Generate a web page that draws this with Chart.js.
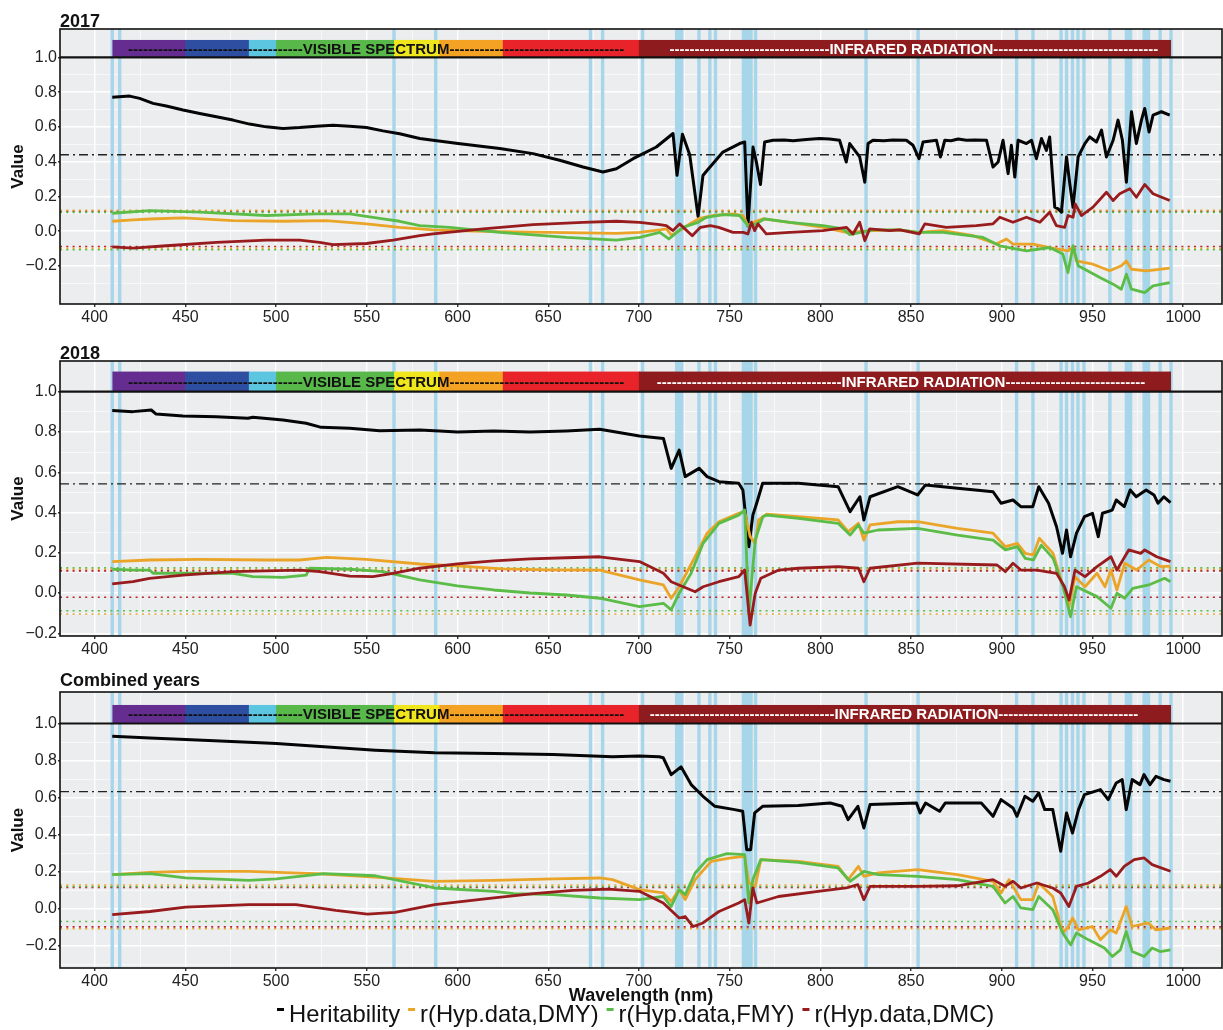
<!DOCTYPE html>
<html><head><meta charset="utf-8">
<script src="https://cdn.jsdelivr.net/npm/chart.js@4.4.1/dist/chart.umd.min.js"></script>
<style>
html,body{margin:0;padding:0;background:#fff;}
#wrap{position:relative;width:1223px;height:1030px;overflow:hidden;background:#fff;}
canvas{position:absolute;left:0;}
</style></head><body>
<div id="wrap">
<canvas id="c1" width="1223" height="330" style="top:0px"></canvas>
<canvas id="c2" width="1223" height="332" style="top:330px"></canvas>
<canvas id="c3" width="1223" height="368" style="top:662px"></canvas>
</div>
<script>
// ---------------- DATA ----------------
const panelTitles = ['2017', '2018', 'Combined years'];
const seriesNames = ['Heritability', 'r(Hyp.data,DMY)', 'r(Hyp.data,FMY)', 'r(Hyp.data,DMC)'];
const xTickLabels = [400, 450, 500, 550, 600, 650, 700, 750, 800, 850, 900, 950, 1000];
const xGridValues = [400, 425, 450, 475, 500, 525, 550, 575, 600, 625, 650, 675, 700, 725, 750, 775, 800, 825, 850, 875, 900, 925, 950, 975, 1000];
const yTickValues = [-0.2, 0, 0.2, 0.4, 0.6, 0.8, 1.0];
const yGridValues = [-0.3, -0.2, -0.1, 0, 0.1, 0.2, 0.3, 0.4, 0.5, 0.6, 0.7, 0.8, 0.9, 1.0];

// significant wavelengths (light blue vertical lines), nm
const blueLines = [409.7, 413.8, 565, 588, 673.3, 680, 702, 720.8, 722.2, 723.6, 733.1, 739.1, 742.2, 757.6, 759, 760.4, 761.8, 764.3, 825.2, 853.9, 908.2, 917.2, 932.7, 935.7, 939, 942, 945.3, 959.6, 968.7, 969.9, 971, 978.5, 979.7, 980.9, 987.3, 993.3];
// spectrum strip
const bandEdges = [409.8, 450, 485, 500, 565, 590, 625, 700, 993.3];
const bandColors = ['#662d91', '#2e4fa1', '#5cc6e0', '#59b84a', '#f0e61e', '#f3a224', '#e8232a', '#8e1b1d'];

// mean heritability (dash-dot) and significance thresholds (dotted), per panel
const herMean  = [0.44, 0.542, 0.632];
const upperDMY = [0.120, 0.118, 0.128];
const lowerDMY = [-0.098, -0.104, -0.108];
const upperFMY = [0.108, 0.125, 0.120];
const lowerFMY = [-0.106, -0.088, -0.069];
const upperDMC = [0.115, 0.110, 0.115];
const lowerDMC = [-0.088, -0.021, -0.098];

// ---- 2017 ----
const wlHer17 = [409.7,419.3,424.8,432.2,439.5,448.7,457.9,467.1,476.2,485.4,494.6,503.8,513,522.2,531.4,540.6,549.8,558.9,568.1,579.2,586.5,600.3,623.3,641.6,656.3,669.2,680.2,687.6,696.8,700.4,709.6,718.8,721,724,728,732.6,735.3,737.2,746.3,755.5,758.3,760.1,762.9,764.7,767,769.3,773.9,780,785,792.3,799.6,805,810.6,814.3,816.2,821.7,824.5,826.3,829,835,840,847.4,851.1,854.4,856.6,864,866.2,868.6,872,876,880.5,885,891.6,895.2,898,900.7,903.5,905.3,907.2,909,913.6,916.4,919.1,921.9,924.6,926.4,929.2,931.1,932.9,935.7,937.5,939.3,942.1,945.8,948.5,952.2,955,957.7,961.4,964.1,966.5,968.7,971.5,974.2,977,978.8,981.2,983.4,988,992.6];
const her17 = [0.770,0.777,0.764,0.735,0.720,0.697,0.677,0.658,0.639,0.616,0.600,0.591,0.596,0.604,0.610,0.604,0.596,0.577,0.560,0.533,0.523,0.504,0.475,0.446,0.408,0.369,0.340,0.359,0.417,0.436,0.484,0.562,0.321,0.558,0.440,0.085,0.320,0.345,0.455,0.504,0.513,0.030,0.484,0.400,0.269,0.513,0.523,0.525,0.520,0.527,0.533,0.530,0.523,0.398,0.504,0.427,0.282,0.504,0.523,0.520,0.525,0.523,0.494,0.417,0.513,0.523,0.427,0.523,0.520,0.530,0.523,0.525,0.523,0.369,0.398,0.523,0.331,0.494,0.311,0.523,0.504,0.523,0.417,0.533,0.465,0.542,0.138,0.128,0.109,0.427,0.273,0.138,0.427,0.504,0.542,0.513,0.581,0.427,0.523,0.639,0.523,0.282,0.687,0.504,0.639,0.706,0.571,0.668,0.687,0.668];
const wlDmy17 = [409.7,421.1,430.3,448.7,476.2,503.8,527.7,549.8,568.1,579.2,586.5,614.1,650.8,687.6,700.4,711.5,715.2,717.9,722.4,728,733.5,740.8,751.9,757.4,760.1,762.9,768.4,783.1,801.5,814.3,829,843.8,853.9,867.6,884.2,897,902.6,906.2,917.2,926.4,936.5,939.3,941.1,950.3,959.5,965.9,968.7,971.5,979.7,992.6];
const dmy17 = [0.057,0.065,0.070,0.076,0.061,0.057,0.061,0.042,0.022,0.013,0.007,-0.001,-0.007,-0.013,-0.007,0.007,0.013,-0.023,0.003,0.042,0.074,0.090,0.099,0.090,0.032,0.051,0.071,0.051,0.022,-0.007,0.003,0.007,-0.007,0.003,-0.026,-0.074,-0.045,-0.074,-0.074,-0.094,-0.113,-0.094,-0.171,-0.190,-0.228,-0.199,-0.171,-0.219,-0.228,-0.213];
const wlFmy17 = [409.7,430.3,457.9,494.6,522.2,540.6,558.9,568.1,579.2,595.7,623.3,660.1,687.6,700.4,711.5,716.5,724.3,732.6,737.2,746.3,755.5,760.1,764.7,769.3,783.1,801.5,812.5,816.2,829,843.8,853.9,867.6,889.7,898.9,913.6,926.4,933.7,936.5,939.3,942.1,954.1,961.4,965.9,968.7,971.5,978.8,983.4,992.6];
const fmy17 = [0.103,0.118,0.109,0.090,0.099,0.099,0.071,0.057,0.032,0.022,-0.007,-0.036,-0.051,-0.036,-0.007,-0.045,0.022,0.051,0.080,0.095,0.090,0.032,0.042,0.071,0.051,0.032,0.013,-0.020,0.007,0.007,-0.007,-0.007,-0.036,-0.084,-0.113,-0.094,-0.132,-0.238,-0.084,-0.199,-0.267,-0.305,-0.334,-0.247,-0.334,-0.354,-0.315,-0.296];
const wlDmc17 = [409.7,421.1,439.5,467.1,494.6,513,524,531.4,549.8,564.5,579.2,586.5,614.1,641.6,669.2,687.6,700.4,711.5,715.1,718.8,722.4,729.4,733.9,739.4,744,751.9,757.4,760.1,762,763.8,765.6,770.2,783.1,801.5,814.3,818,821.7,824.5,827.2,838.2,843.8,854.5,857.6,869.5,886,895.2,898.9,906.2,913.6,921,926.4,930.1,934.7,936.5,939.3,940.5,943.9,950.3,957.7,961.4,965,970.6,974.2,978.8,983.4,992.6];
const dmc17 = [-0.090,-0.097,-0.084,-0.064,-0.051,-0.051,-0.064,-0.078,-0.071,-0.051,-0.026,-0.016,0.013,0.038,0.051,0.057,0.051,0.038,0.032,0.003,0.042,-0.026,0.022,0.032,0.022,-0.007,-0.007,-0.016,0.051,0.003,0.042,-0.016,-0.007,0.003,0.022,-0.016,0.051,-0.055,0.013,0.003,0.007,-0.016,0.042,0.022,0.032,0.042,0.080,0.051,0.080,0.051,0.109,0.032,0.022,0.090,0.080,0.157,0.090,0.138,0.224,0.176,0.215,0.244,0.195,0.269,0.215,0.176];

// ---- 2018 ----
const wlHer18 = [409.7,421.1,431.2,433.9,448.7,467.1,484.5,487.2,503.8,516.6,524.9,540.6,557.1,579.2,590,600,620,640,660,678.4,700.3,713.5,717.8,722.2,725.5,733.2,737.6,744.1,755,757.3,760.6,762.8,764.9,768.2,787.9,809.8,816.4,821.8,824,827.4,842.7,853.6,858,875.6,895.2,899.6,906.2,910.5,917.1,920.4,925.8,930.2,933.5,935.7,937.9,941.2,945.6,950,953.2,955.5,960.9,963.1,967.5,970.8,974.1,979.6,983.9,986.1,989.4,993];
const her18 = [0.906,0.901,0.909,0.889,0.879,0.876,0.868,0.873,0.859,0.843,0.823,0.818,0.806,0.810,0.805,0.800,0.805,0.800,0.805,0.813,0.780,0.768,0.619,0.710,0.578,0.619,0.578,0.553,0.545,0.512,0.230,0.387,0.446,0.545,0.545,0.528,0.404,0.478,0.363,0.478,0.528,0.487,0.537,0.520,0.503,0.446,0.462,0.429,0.429,0.528,0.446,0.329,0.197,0.313,0.180,0.297,0.379,0.396,0.280,0.396,0.412,0.462,0.429,0.512,0.478,0.512,0.487,0.446,0.478,0.449];
const wlDmy18 = [409.7,430.3,457.9,494.6,513,527.7,549.8,579.2,600,625,650,678.4,700.3,713.5,717.8,722.2,731,737.6,744.1,755,758.3,761.3,764.1,766,770.4,787.9,809.8,815.4,821,824,827.4,842.7,853.6,875.6,895.2,902,908.6,913,917.4,920.7,928.3,932.7,937.1,940.4,945.9,952.5,956.9,960.2,963.5,967.8,974.4,981,987.6,993];
const dmy18 = [0.156,0.164,0.167,0.164,0.164,0.177,0.167,0.144,0.135,0.120,0.115,0.114,0.065,0.040,-0.026,0.031,0.180,0.297,0.354,0.396,0.404,0.280,0.247,0.363,0.392,0.379,0.363,0.305,0.346,0.263,0.338,0.354,0.354,0.321,0.297,0.230,0.247,0.197,0.189,0.272,0.197,0.065,-0.068,0.081,0.031,0.098,0.031,0.114,0.015,0.148,0.114,0.164,0.131,0.134];
const wlFmy18 = [409.7,421.1,430.3,432.2,448.7,476.2,487.2,503.8,516.6,518.5,540.6,558.9,579.2,600,620,640,660,678.4,700.3,713.5,717.8,722.2,728.8,735.4,744.1,755,758.3,760.6,764.1,768.3,770.4,787.9,809.8,816.4,821,824,831.8,853.6,875.6,895.2,902,908.6,913,917.4,921.8,928.3,933.8,937.9,941.2,952.5,960.2,963.5,967.8,972.2,981,989.8,993];
const fmy18 = [0.118,0.114,0.114,0.098,0.098,0.098,0.081,0.078,0.089,0.123,0.118,0.106,0.065,0.035,0.015,0.000,-0.010,-0.026,-0.068,-0.051,-0.084,-0.001,0.098,0.247,0.346,0.387,0.412,-0.101,0.263,0.379,0.387,0.371,0.346,0.288,0.338,0.297,0.313,0.321,0.288,0.263,0.214,0.230,0.172,0.164,0.238,0.172,0.031,-0.118,0.031,-0.018,-0.076,-0.001,-0.026,0.023,0.040,0.073,0.056];
const wlDmc18 = [409.7,421.1,430.3,448.7,476.2,513,524,540.6,553.4,564.5,579.2,600,620,640,660,678.4,700.3,713.5,717.8,724.4,731,735.4,744.1,755,758.3,761.3,764.1,767.2,777.1,787.9,809.8,821,824,827.4,853.6,897.4,902,906.2,910.5,919.3,930.2,934.6,937.1,940.4,945.9,952.5,960.2,963.5,970,976.6,978.8,985.4,993];
const dmc18 = [0.045,0.056,0.073,0.089,0.106,0.114,0.106,0.084,0.081,0.098,0.123,0.145,0.160,0.170,0.175,0.180,0.156,0.098,0.056,0.031,0.006,0.031,0.056,0.081,0.114,-0.159,-0.001,0.073,0.114,0.123,0.131,0.123,0.056,0.123,0.148,0.139,0.106,0.148,0.114,0.114,0.098,0.031,-0.035,0.114,0.081,0.131,0.180,0.114,0.214,0.197,0.214,0.180,0.156];

// ---- Combined years ----
const wlHerC = [409.7,430.5,450.1,484.9,500.2,526.4,554.7,587.4,620.1,652.8,685.5,700,711.2,713.4,717.8,723.2,728.8,735.3,741.9,752.8,757.2,759.4,761.6,763.8,768.2,787.9,805.4,812,815.3,820.7,824,827.4,853,855,858,865.7,868.9,888.7,895.2,899.6,906.2,908.4,912.8,917.1,920.4,923.7,928.1,932.5,935.7,939,942.3,945.6,954.4,958.7,963.1,966.4,968.6,971.9,976.2,978.4,981.7,985,989.4,993];
const herC = [0.931,0.922,0.914,0.899,0.892,0.874,0.856,0.842,0.838,0.832,0.820,0.825,0.820,0.815,0.724,0.766,0.670,0.607,0.553,0.535,0.526,0.319,0.319,0.517,0.553,0.557,0.571,0.553,0.481,0.553,0.436,0.562,0.571,0.517,0.571,0.526,0.571,0.571,0.499,0.589,0.544,0.499,0.607,0.580,0.625,0.535,0.535,0.310,0.517,0.409,0.535,0.616,0.643,0.589,0.679,0.697,0.535,0.697,0.670,0.724,0.670,0.715,0.697,0.688];
const wlDmyC = [409.7,430.5,450.1,484.9,522,554.7,587.4,620.1,652.8,678.4,685.5,700.3,713.4,717.8,722.2,725.5,731,739.8,750.7,758.3,760.6,764.1,767.2,787.9,809.8,815.3,821,824,831.8,853.6,875.6,895.2,899.6,904,910.5,917.1,920.4,928.1,933.6,936.8,939,942.3,950,954.4,959.8,963.1,968.6,971.9,980.7,985,993];
const dmyC = [0.184,0.196,0.202,0.202,0.189,0.171,0.148,0.153,0.161,0.166,0.157,0.103,0.085,0.039,0.103,0.049,0.157,0.256,0.274,0.283,0.139,0.121,0.265,0.256,0.229,0.157,0.229,0.175,0.193,0.211,0.184,0.148,0.085,0.157,0.049,0.049,0.139,0.066,-0.131,-0.096,-0.050,-0.114,-0.096,-0.168,-0.114,-0.131,0.012,-0.096,-0.077,-0.114,-0.104];
const wlFmyC = [409.7,430.5,450.1,484.9,500.2,526.4,554.7,587.4,620.1,631,652.8,678.4,700.3,713.4,717.8,722.2,725.5,731,737.6,748.5,758.3,760.6,762.8,767.2,787.9,809.8,816.4,824,831.8,853.6,875.6,895.2,901.8,906.2,910.5,917.1,920.4,928.1,933.6,938,941.2,947.8,956.6,961,965.4,968.6,971.9,978.5,982.9,987.3,993];
const fmyC = [0.184,0.189,0.166,0.153,0.161,0.189,0.178,0.112,0.094,0.081,0.076,0.058,0.049,0.066,0.012,0.103,0.076,0.193,0.265,0.297,0.292,0.031,0.157,0.265,0.250,0.220,0.148,0.202,0.184,0.175,0.157,0.121,0.031,0.066,0.004,-0.005,0.066,-0.005,-0.131,-0.195,-0.131,-0.168,-0.212,-0.258,-0.222,-0.123,-0.231,-0.258,-0.212,-0.231,-0.222];
const wlDmcC = [409.7,430.5,450.1,484.9,511,532.9,550.3,565.6,587.4,620.1,641.9,663.7,683.3,700.3,713.4,722.2,725.5,729.9,735.3,744.1,755,758.3,760.6,762.8,765,776.9,798.8,814.2,820.7,824,827.4,853.6,875.6,895.2,901.8,906.2,910.5,919.3,928.1,932.5,937,941.2,947.8,954.4,959.8,963.1,967.5,973,978.5,982.9,993];
const dmcC = [-0.032,-0.015,0.009,0.022,0.022,-0.009,-0.029,-0.020,0.022,0.058,0.081,0.099,0.106,0.094,0.031,-0.050,-0.042,-0.096,-0.077,-0.015,0.031,0.049,-0.077,0.112,0.031,0.066,0.094,0.112,0.130,0.049,0.121,0.121,0.124,0.157,0.121,0.148,0.112,0.139,0.112,0.085,0.012,0.121,0.139,0.175,0.211,0.175,0.229,0.265,0.274,0.238,0.202];

// ---------------- STYLE / LAYOUT ----------------
const FONT = '"Liberation Sans", Arial, Helvetica, sans-serif';
const xMin = 380.9, xMax = 1021.4, stripTop = 1.1;
const COL = { her: '#050505', dmy: '#eaa528', fmy: '#5bbd47', dmc: '#981b1e', dmcDot: '#b8222a' };
Chart.defaults.font.family = FONT;
Chart.defaults.color = '#222';

const near = (a, b) => Math.abs(a - b) < 1e-6;
const isMajorY = v => yTickValues.some(t => near(t, v));
const isMajorX = v => xTickLabels.some(t => near(t, v));

function drawDashedLabel(ctx, x, word, pos, yMid, color) {
  const xs = x.getPixelForValue(pos[0]), xw = x.getPixelForValue(pos[1]), xe = x.getPixelForValue(pos[2]);
  const ww = ctx.measureText(word).width, dw = ctx.measureText('-').width;
  const nL = Math.max(0, Math.round((xw - xs) / dw));
  const nR = Math.max(0, Math.round((xe - xw - ww) / dw));
  ctx.fillStyle = color;
  ctx.textAlign = 'left';
  ctx.fillText('-'.repeat(nL) + word + '-'.repeat(nR), xw - nL * dw, yMid);
}

const panelDecor = {
  id: 'panelDecor',
  beforeDraw(chart) {
    const {ctx, chartArea: a} = chart;
    ctx.save();
    ctx.fillStyle = '#ecedef';
    ctx.fillRect(a.left, a.top, a.right - a.left, a.bottom - a.top);
    ctx.restore();
  },
  beforeDatasetsDraw(chart, args, opts) {
    const {ctx, chartArea: a, scales: {x, y}} = chart;
    ctx.save();
    ctx.beginPath(); ctx.rect(a.left, a.top, a.right - a.left, a.bottom - a.top); ctx.clip();
    ctx.strokeStyle = '#a7d6ea'; ctx.lineWidth = 3.4;
    blueLines.forEach(w => {
      const px = x.getPixelForValue(w);
      ctx.beginPath(); ctx.moveTo(px, a.top); ctx.lineTo(px, a.bottom); ctx.stroke();
    });
    const yT = y.getPixelForValue(stripTop), yB = y.getPixelForValue(1.0);
    for (let i = 0; i < bandColors.length; i++) {
      const x0 = x.getPixelForValue(bandEdges[i]), x1 = x.getPixelForValue(bandEdges[i + 1]);
      ctx.fillStyle = bandColors[i];
      ctx.fillRect(x0, yT, x1 - x0 + (i < bandColors.length - 1 ? 0.6 : 0), yB - yT);
    }
    const yMid = (yT + yB) / 2 + 1;
    ctx.font = 'bold 15px ' + FONT;
    ctx.textBaseline = 'middle';
    drawDashedLabel(ctx, x, 'VISIBLE SPECTRUM', [418, 514.7, 692.7], yMid, '#111');
    drawDashedLabel(ctx, x, 'INFRARED RADIATION', opts.infra, yMid, '#ffffff');
    ctx.restore();
  },
  afterDatasetsDraw(chart) {
    const {ctx, chartArea: a, scales: {y}} = chart;
    ctx.save();
    const y1 = y.getPixelForValue(1.0);
    ctx.strokeStyle = '#111'; ctx.lineWidth = 2.2;
    ctx.beginPath(); ctx.moveTo(a.left, y1); ctx.lineTo(a.right, y1); ctx.stroke();
    ctx.lineWidth = 1.6;
    ctx.strokeRect(a.left, a.top, a.right - a.left, a.bottom - a.top);
    ctx.restore();
  },
  afterDraw(chart, args, opts) {
    const {ctx, chartArea: a} = chart;
    ctx.save();
    ctx.font = 'bold 18px ' + FONT;
    ctx.fillStyle = '#111'; ctx.textAlign = 'left'; ctx.textBaseline = 'alphabetic';
    ctx.fillText(opts.title, a.left, a.top - opts.titleGap);
    if (opts.legend) {
      ctx.font = '23.8px ' + FONT;
      ctx.textBaseline = 'middle';
      let lx = opts.legend.x; const ly = opts.legend.y;
      chart.data.datasets.filter(d => d.legendRank !== undefined)
        .sort((p, q) => p.legendRank - q.legendRank)
        .forEach(d => {
          ctx.fillStyle = d.borderColor; ctx.fillRect(lx, ly - 7, 7, 3);
          lx += 12;
          ctx.fillStyle = '#111'; ctx.fillText(d.label, lx, ly);
          lx += ctx.measureText(d.label).width + 8;
        });
    }
    ctx.restore();
  }
};

function series(label, wl, vals, color, width, order, rank) {
  const n = Math.min(wl.length, vals.length);
  const data = [];
  for (let i = 0; i < n; i++) data.push({x: wl[i], y: vals[i]});
  return {label, data, borderColor: color, backgroundColor: color, borderWidth: width,
          pointRadius: 0, tension: 0, fill: false, order, legendRank: rank, borderJoinStyle: 'round'};
}
function hline(label, v, color, dash, width, order) {
  return {label, data: [{x: xMin, y: v}, {x: xMax, y: v}], borderColor: color, borderWidth: width,
          borderDash: dash, pointRadius: 0, fill: false, order};
}

function makePanel(cfg, i) {
  const dot = [2, 4.3];
  const datasets = [
    series(seriesNames[0], cfg.her[0], cfg.her[1], COL.her, 3, 3, 0),
    series(seriesNames[1], cfg.dmy[0], cfg.dmy[1], COL.dmy, 2.8, 2, 1),
    series(seriesNames[2], cfg.fmy[0], cfg.fmy[1], COL.fmy, 2.8, 1, 2),
    series(seriesNames[3], cfg.dmc[0], cfg.dmc[1], COL.dmc, 2.8, 0, 3),
    hline('mean h2', herMean[i], '#222', [9, 4, 2, 4], 1.4, 4),
    hline('DMY+', upperDMY[i], COL.dmy, dot, 1.6, 5),
    hline('DMY-', lowerDMY[i], COL.dmy, dot, 1.6, 5),
    hline('FMY+', upperFMY[i], COL.fmy, dot, 1.6, 6),
    hline('FMY-', lowerFMY[i], COL.fmy, dot, 1.6, 6),
    hline('DMC+', upperDMC[i], COL.dmcDot, dot, 1.6, 7),
    hline('DMC-', lowerDMC[i], COL.dmcDot, dot, 1.6, 7)
  ];
  return new Chart(document.getElementById(cfg.id), {
    type: 'line',
    data: {datasets},
    plugins: [panelDecor],
    options: {
      responsive: false, animation: false, devicePixelRatio: 1,
      layout: {padding: {top: cfg.padTop, right: 1, bottom: cfg.padBottom, left: 0}},
      plugins: {
        legend: {display: false}, tooltip: {enabled: false},
        panelDecor: {title: panelTitles[i], titleGap: cfg.titleGap, infra: cfg.infra, legend: cfg.legend}
      },
      scales: {
        x: {
          type: 'linear', min: xMin, max: xMax,
          afterBuildTicks: s => { s.ticks = xGridValues.map(v => ({value: v})); },
          afterFit: s => { s.height = cfg.xH; },
          ticks: {autoSkip: false, maxRotation: 0, minRotation: 0, padding: 1,
                  font: {size: 16}, color: '#222',
                  callback: v => isMajorX(v) ? String(v) : ''},
          grid: {color: '#ffffff',
                 lineWidth: c => (c.tick && isMajorX(c.tick.value)) ? 1.4 : 0.6,
                 tickLength: 3,
                 tickColor: c => (c.tick && isMajorX(c.tick.value)) ? '#333' : 'rgba(0,0,0,0)'},
          border: {display: false},
          title: {display: cfg.xTitle, text: 'Wavelength (nm)', color: '#111',
                  font: {size: 18, weight: 'bold'}, padding: {top: 0, bottom: 0}}
        },
        y: {
          type: 'linear', min: cfg.yMin, max: cfg.yMax,
          afterBuildTicks: s => { s.ticks = yGridValues.filter(v => v >= cfg.yMin && v <= cfg.yMax).map(v => ({value: v})); },
          afterFit: s => { s.width = 60; },
          ticks: {autoSkip: false, padding: 1, font: {size: 16}, color: '#222',
                  callback: v => isMajorY(v) ? v.toFixed(1).replace('-', '\u2212') : ''},
          grid: {color: '#ffffff',
                 lineWidth: c => (c.tick && isMajorY(c.tick.value)) ? 1.4 : 0.6,
                 tickLength: 2,
                 tickColor: c => (c.tick && isMajorY(c.tick.value)) ? '#333' : 'rgba(0,0,0,0)'},
          border: {display: false},
          title: {display: true, text: 'Value', color: '#111',
                  font: {size: 17, weight: 'bold'}, padding: {top: 8, bottom: 0}}
        }
      }
    }
  });
}

const panels = [
  {id: 'c1', her: [wlHer17, her17], dmy: [wlDmy17, dmy17], fmy: [wlFmy17, fmy17], dmc: [wlDmc17, dmc17],
   yMin: -0.419, yMax: 1.163, padTop: 29, padBottom: 0, xH: 26, titleGap: 2, xTitle: false,
   infra: [717, 805, 985.5], legend: null},
  {id: 'c2', her: [wlHer18, her18], dmy: [wlDmy18, dmy18], fmy: [wlFmy18, fmy18], dmc: [wlDmc18, dmc18],
   yMin: -0.2136, yMax: 1.1525, padTop: 31, padBottom: 0, xH: 26, titleGap: 2, xTitle: false,
   infra: [709.8, 811.7, 979.4], legend: null},
  {id: 'c3', her: [wlHerC, herC], dmy: [wlDmyC, dmyC], fmy: [wlFmyC, fmyC], dmc: [wlDmcC, dmcC],
   yMin: -0.32, yMax: 1.17, padTop: 30, padBottom: 23.2, xH: 38.8, titleGap: 6.5, xTitle: true,
   infra: [704.9, 807.8, 975], legend: {x: 277, y: 353}}
];
panels.forEach((p, i) => makePanel(p, i));
</script>
</body></html>
